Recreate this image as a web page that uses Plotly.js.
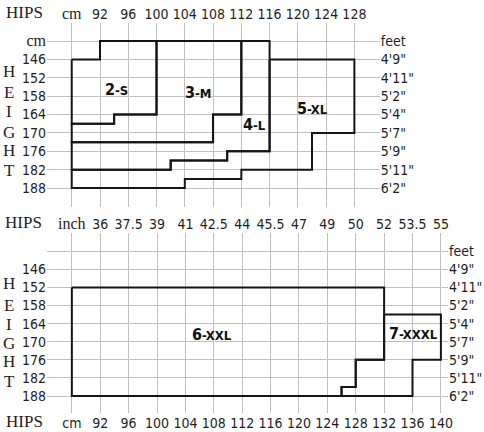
<!DOCTYPE html>
<html><head><meta charset="utf-8">
<script src="https://cdn.plot.ly/plotly-3.0.1.min.js"></script>
<style>html,body{margin:0;padding:0;background:#fff}#chart{width:484px;height:432px}</style>
</head><body><div id="chart"></div>
<script>
// ---- data ----
const topHipsCm = [88, 92, 96, 100, 104, 108, 112, 116, 120, 124, 128];
const topHipsLabels = ['cm', '92', '96', '100', '104', '108', '112', '116', '120', '124', '128'];
const bottomHipsCm = [88, 92, 96, 100, 104, 108, 112, 116, 120, 124, 128, 132, 136, 140];
const bottomHipsCmLabels = ['cm', '92', '96', '100', '104', '108', '112', '116', '120', '124', '128', '132', '136', '140'];
const bottomHipsInchLabels = ['inch', '36', '37.5', '39', '41', '42.5', '44', '45.5', '47', '49', '50', '52', '53.5', '55'];
const heightCm = [140, 146, 152, 158, 164, 170, 176, 182, 188];
const heightLabelsTop = ['cm', '146', '152', '158', '164', '170', '176', '182', '188'];
const heightLabelsBottom = ['', '146', '152', '158', '164', '170', '176', '182', '188'];
const heightFeetLabels = ['feet', "4'9\"", "4'11\"", "5'2\"", "5'4\"", "5'7\"", "5'9\"", "5'11\"", "6'2\""];

const sizeNames = ['2-S', '3-M', '4-L', '5-XL', '6-XXL', '7-XXXL'];
const sHips   = [88, 92, 92, 100, 100, 94, 94, 88, 88];
const sHeight = [146, 146, 140, 140, 164, 164, 167, 167, 146];
const mHips   = [100, 112, 112, 108, 108, 88, 88, 94, 94, 100, 100];
const mHeight = [140, 140, 164, 164, 173, 173, 167, 167, 164, 164, 140];
const lHips   = [112, 116, 116, 110, 110, 102, 102, 88, 88, 108, 108, 112, 112];
const lHeight = [140, 140, 176, 176, 179, 179, 182, 182, 173, 173, 164, 164, 140];
const xlHips   = [116, 128, 128, 122, 122, 112, 112, 104, 104, 88, 88, 102, 102, 110, 110, 116, 116];
const xlHeight = [146, 146, 170, 170, 182, 182, 185, 185, 188, 188, 182, 182, 179, 179, 176, 176, 146];
const xxlHips   = [88, 132, 132, 128, 128, 126, 126, 88, 88];
const xxlHeight = [152, 152, 176, 176, 185, 185, 188, 188, 152];
const xxxlHips   = [132, 140, 140, 136, 136, 126, 126, 128, 128, 132, 132];
const xxxlHeight = [161, 161, 176, 176, 188, 188, 185, 185, 176, 176, 161];

// ---- styling ----
const SANS = "'Liberation Sans Narrow', 'DejaVu Sans Condensed', 'Arial Narrow', sans-serif";
const SERIF = "'Liberation Serif', 'DejaVu Serif', serif";
const GRID = '#c0c0c0';
const INK = '#151515';
const serifSpan = t => '<span style="font-family:Liberation Serif;font-size:16px">' + t + '</span>';

const line = {color: INK, width: 2};
function outline(x, y, name, xa, ya) {
  return {type: 'scatter', mode: 'lines', x: x, y: y, name: name, xaxis: xa, yaxis: ya,
    line: line, hoverinfo: 'skip', showlegend: false};
}
const traces = [
  outline(sHips, sHeight, sizeNames[0], 'x', 'y'),
  outline(mHips, mHeight, sizeNames[1], 'x', 'y'),
  outline(lHips, lHeight, sizeNames[2], 'x', 'y3'),
  outline(xlHips, xlHeight, sizeNames[3], 'x', 'y3'),
  outline(xxlHips, xxlHeight, sizeNames[4], 'x2', 'y2'),
  outline(xxxlHips, xxxlHeight, sizeNames[5], 'x3', 'y4')
];

const topX = [84.5, 131.6], botX = [84.5, 141.0];
const topY = [194.2, 134.1], botY = [193.6, 134.0];
const tickFont = {family: SANS, size: 14, color: '#1e1e1e'};
const baseAx = {showgrid: true, gridcolor: GRID, gridwidth: 1, zeroline: false, showline: false,
  ticks: '', tickfont: tickFont, fixedrange: true, tickmode: 'array'};
const overAx = Object.assign({}, baseAx, {showgrid: false});

function sizeLabel(num, rest) {
  return '<b>' + num + '</b><b><span style="font-size:13px">-' + rest + '</span></b>';
}
const ann = [];
function addPaper(text, x, y, font) {
  ann.push({text: text, x: x, y: y, xref: 'paper', yref: 'paper', xanchor: 'center', yanchor: 'middle',
    showarrow: false, font: font});
}
const px = p => (p - 47) / 401;
const py = p => 1 - (p - 23) / 390;
const bigSerif = {family: SERIF, size: 17, color: '#1e1e1e'};
addPaper('HIPS', px(24), py(12), bigSerif);
addPaper('HIPS', px(23), py(223), bigSerif);
addPaper('HIPS', px(24), py(422), bigSerif);
const letters = ['H', 'E', 'I', 'G', 'H', 'T'];
const topLetterY = [71, 92, 112, 132, 151, 170];
const botLetterY = [283, 305, 324, 343, 361, 381];
letters.forEach((l, i) => {
  addPaper(l, px(9), py(topLetterY[i]), bigSerif);
  addPaper(l, px(9), py(botLetterY[i]), bigSerif);
});
const lblFont = {family: SANS, size: 16, color: '#111'};
function addData(text, x, y, xa, ya) {
  ann.push({text: text, x: x, y: y, xref: xa, yref: ya, xanchor: 'center', yanchor: 'middle',
    showarrow: false, font: lblFont});
}
addData(sizeLabel('2', 'S'), 94.3, 155.7, 'x', 'y');
addData(sizeLabel('3', 'M'), 105.9, 156.7, 'x', 'y');
addData(sizeLabel('4', 'L'), 113.9, 167.4, 'x', 'y');
addData(sizeLabel('5', 'XL'), 122.1, 161.9, 'x', 'y');
addData(sizeLabel('6', 'XXL'), 107.7, 167.5, 'x2', 'y2');
addData(sizeLabel('7', 'XXXL'), 136.2, 167.2, 'x2', 'y2');

const layout = {
  width: 484, height: 432,
  margin: {l: 47, r: 36, t: 23, b: 19},
  paper_bgcolor: '#fff', plot_bgcolor: '#fff',
  showlegend: false,
  xaxis: Object.assign({}, baseAx, {domain: [0, 0.830], range: topX, anchor: 'y', side: 'top',
    tickvals: topHipsCm, ticktext: topHipsLabels.map((t, i) => i === 0 ? serifSpan(t) : t)}),
  yaxis: Object.assign({}, baseAx, {domain: [0.528, 1], range: topY, anchor: 'x',
    tickvals: heightCm, ticktext: heightLabelsTop.map((t, i) => i === 0 ? serifSpan(t) : t)}),
  yaxis3: Object.assign({}, overAx, {overlaying: 'y', side: 'right', anchor: 'x', range: topY,
    tickvals: heightCm, ticktext: heightFeetLabels}),
  xaxis2: Object.assign({}, baseAx, {domain: [0, 1], range: botX, anchor: 'y2', side: 'bottom',
    tickvals: bottomHipsCm, ticktext: bottomHipsCmLabels}),
  yaxis2: Object.assign({}, baseAx, {domain: [0, 0.4615], range: botY, anchor: 'x2',
    tickvals: heightCm, ticktext: heightLabelsBottom}),
  yaxis4: Object.assign({}, overAx, {overlaying: 'y2', side: 'right', anchor: 'x2', range: botY,
    tickvals: heightCm, ticktext: heightFeetLabels}),
  xaxis3: Object.assign({}, overAx, {overlaying: 'x2', side: 'top', anchor: 'y2', range: botX,
    tickvals: bottomHipsCm, ticktext: bottomHipsInchLabels.map((t, i) => i === 0 ? serifSpan(t) : t)}),
  annotations: ann
};
Plotly.newPlot('chart', traces, layout, {displayModeBar: false, staticPlot: true});
</script></body></html>
